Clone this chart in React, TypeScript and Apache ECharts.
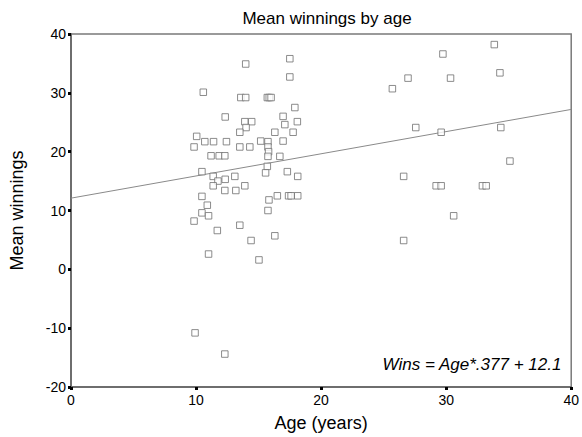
import React, { useEffect, useRef } from "react";
import * as echarts from "echarts";

const ages: number[] = [
  10.58, 13.97, 13.58, 13.97, 12.33, 13.9, 14.45, 14.0, 13.5, 10.05,
  9.84, 10.7, 11.4, 12.43, 13.5, 14.3, 11.2, 11.85, 12.3, 17.5,
  17.5, 15.7, 15.85, 16.0, 17.9, 16.96, 17.1, 18.1, 16.3, 17.76,
  15.17, 15.75, 16.96, 15.75, 15.8, 15.75, 16.7, 15.7, 25.7, 10.47,
  11.37, 11.75, 12.33, 13.1, 11.37, 12.3, 13.18, 13.9, 10.47, 10.9,
  10.47, 11.0, 9.84, 11.7, 13.5, 14.4, 11.0, 15.56, 17.3,
  18.13, 15.83, 16.5, 17.4, 17.6, 18.13, 15.75, 16.3, 15.03, 33.85,
  29.74, 26.95, 30.35, 34.3, 27.57, 29.6, 34.37, 35.1, 26.6, 29.2,
  29.6, 32.9, 33.2, 30.6, 26.6, 9.92, 12.3,
];
const winnings: number[] = [
  30.1, 34.9, 29.2, 29.2, 25.9, 25.1, 25.1, 24.1, 23.3, 22.6,
  20.8, 21.7, 21.7, 21.7, 20.8, 20.8, 19.3, 19.3, 19.3, 35.8,
  32.7, 29.2, 29.2, 29.2, 27.5, 26.0, 24.6, 25.1, 23.3, 23.3,
  21.8, 21.7, 21.8, 20.8, 20.0, 19.2, 19.2, 17.5, 30.7, 16.6,
  15.8, 15.0, 15.3, 15.8, 14.2, 13.4, 13.4, 14.2, 12.4, 10.9,
  9.6, 9.1, 8.2, 6.6, 7.5, 4.9, 2.6, 16.4, 16.6,
  15.8, 11.8, 12.5, 12.5, 12.5, 12.5, 10.0, 5.7, 1.6, 38.2,
  36.6, 32.5, 32.5, 33.4, 24.1, 23.3, 24.1, 18.4, 15.8, 14.2,
  14.2, 14.2, 14.2, 9.1, 4.9, -10.8, -14.4,
];
const slope = 0.377;
const intercept = 12.1;
const fitX: number[] = [0, 40];
const xTicks = { min: 0, max: 40, interval: 10 };
const yTicks = { min: -20, max: 40, interval: 10 };
const equationText = "Wins = Age*.377 + 12.1";

export default function App() {
  const ref = useRef<HTMLDivElement>(null);
  useEffect(() => {
    if (!ref.current) return;
    const chart = echarts.init(ref.current, undefined, { renderer: "svg" });
    const font = "'Liberation Sans', Arial, sans-serif";
    chart.setOption({
      animation: false,
      backgroundColor: "#ffffff",
      textStyle: { fontFamily: font },
      title: {
        text: "Mean winnings by age",
        left: 322,
        textAlign: "center",
        top: 5,
        textStyle: { fontSize: 17, fontWeight: "normal", color: "#000", fontFamily: font },
      },
      grid: {
        left: 71,
        right: 8,
        top: 34,
        bottom: 48,
        show: true,
        borderColor: "#7a7a7a",
        borderWidth: 1.5,
        backgroundColor: "transparent",
      },
      xAxis: {
        type: "value",
        min: xTicks.min,
        max: xTicks.max,
        interval: xTicks.interval,
        name: "Age (years)",
        nameLocation: "middle",
        nameGap: 27,
        nameTextStyle: { fontSize: 18, color: "#000", fontFamily: font },
        axisLine: { show: true, onZero: false, lineStyle: { color: "#6e6e6e", width: 2 } },
        axisTick: { show: true, length: 3, lineStyle: { color: "#000", width: 3 } },
        axisLabel: { fontSize: 14, color: "#000", margin: 6, fontFamily: font },
        splitLine: { show: false },
      },
      yAxis: {
        type: "value",
        min: yTicks.min,
        max: yTicks.max,
        interval: yTicks.interval,
        name: "Mean winnings",
        nameLocation: "middle",
        nameGap: 45,
        nameTextStyle: { fontSize: 18, color: "#000", fontFamily: font },
        axisLine: { show: true, onZero: false, lineStyle: { color: "#6e6e6e", width: 2 } },
        axisTick: { show: true, length: 3, lineStyle: { color: "#000", width: 3 } },
        axisLabel: { fontSize: 14, color: "#000", margin: 5, fontFamily: font },
        splitLine: { show: false },
      },
      series: [
        {
          type: "line",
          data: fitX.map((x) => [x, x * slope + intercept]),
          symbol: "none",
          lineStyle: { color: "#8a8a8a", width: 1 },
          z: 1,
        },
        {
          type: "scatter",
          data: ages.map((a, i) => [a, winnings[i]]),
          symbol: "rect",
          symbolSize: 6.5,
          itemStyle: { color: "#ffffff", borderColor: "#6f6f6f", borderWidth: 1 },
          z: 2,
        },
      ],
      graphic: [
        {
          type: "text",
          right: 20,
          top: 356,
          style: {
            text: equationText,
            fontSize: 17,
            fontStyle: "italic",
            fill: "#000",
            fontFamily: font,
          },
        },
      ],
    });
    return () => chart.dispose();
  }, []);
  return (
    <div
      ref={ref}
      style={{ position: "fixed", left: 0, top: 0, width: 582, height: 437 }}
    />
  );
}
